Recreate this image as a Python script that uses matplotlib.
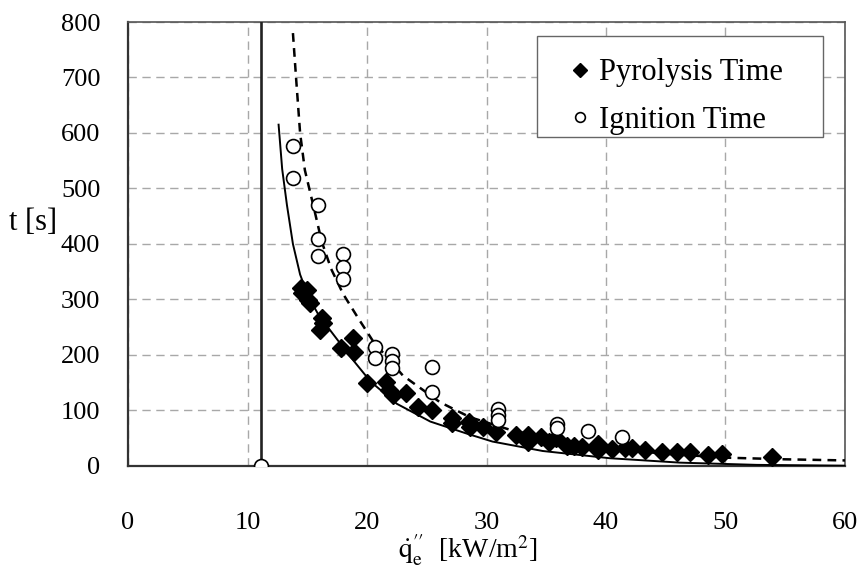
import matplotlib
matplotlib.use("Agg")
import matplotlib.pyplot as plt
from matplotlib.patches import Rectangle

plt.rcParams["font.family"] = ["Liberation Serif", "DejaVu Serif"]
plt.rcParams["mathtext.fontset"] = "stix"

# pyrolysis time (filled diamonds)
pyro_q = [14.5, 15.0, 14.6, 15.1, 15.2, 16.2, 16.3, 16.1, 17.8, 18.8, 18.9,
          20.0, 21.6, 21.8, 22.2, 23.3, 24.3, 25.4, 27.1, 27.1, 28.5, 28.6,
          29.7, 30.8, 32.5, 33.5, 33.5, 34.6, 35.2, 35.8, 36.7, 37.3, 38.0,
          39.3, 39.3, 40.5, 41.6, 42.2, 43.3, 44.7, 45.9, 47.0, 48.5, 49.7, 53.9]
pyro_t = [320, 317, 311, 299, 293, 266, 257, 245, 212, 230, 205,
          150, 152, 137, 128, 131, 107, 101, 86, 77, 79, 70,
          70, 62, 56, 56, 44, 52, 43, 50, 36, 36, 34,
          40, 29, 30, 32, 32, 29, 25, 25, 25, 20, 22, 16]

# ignition time (open circles)
ign_q = [11.1, 13.8, 13.8, 15.9, 15.9, 15.9, 18.0, 18.0, 18.0, 20.7, 20.7,
         22.1, 22.1, 22.1, 25.4, 25.4, 31.0, 31.0, 31.0, 35.9, 35.9, 38.5, 41.3]
ign_t = [0, 577, 519, 470, 409, 379, 382, 359, 337, 214, 195,
         202, 190, 177, 178, 133, 102, 92, 82, 75, 68, 63, 53]

# fitted curves
fit_pyro_q = [12.6, 12.9, 13.3, 13.8, 14.4, 15.1, 16.0, 16.9, 18.6, 20.3, 22.5,
              25.3, 28.4, 30.5, 34.7, 40.3, 46.2, 52.6, 60.0]
fit_pyro_t = [615, 535, 470, 400, 345, 305, 270, 245, 197, 152, 112,
              80, 58, 44, 27, 14, 6, 2, 0.5]
fit_ign_q = [13.8, 14.06, 14.4, 14.8, 15.5, 16.2, 17.0, 18.0, 19.3, 20.5, 23.0,
             26.1, 28.6, 32.0, 36.0, 40.0, 45.0, 50.0, 55.0, 60.0]
fit_ign_t = [780, 700, 600, 533, 470, 405, 355, 310, 265, 225, 163,
             115, 88, 65, 45, 32, 22, 15, 12, 10]

q_crit = 11.1

fig = plt.figure(figsize=(8.61, 5.70), dpi=100)
ax = fig.add_axes([0.1487, 0.1825, 0.8327, 0.7789])

ax.grid(True, color="#a8a8a8", linestyle=(0, (6, 4)), linewidth=1.0)
ax.set_axisbelow(True)

ax.axvline(q_crit, color="#222222", linewidth=1.9, zorder=3)
ax.plot(fit_pyro_q, fit_pyro_t, color="black", linewidth=1.4, zorder=3)
ax.plot(fit_ign_q, fit_ign_t, color="black", linewidth=1.8,
        linestyle=(0, (3.5, 2.5)), zorder=3)

ax.plot(pyro_q, pyro_t, linestyle="none", marker="D", markersize=9.5,
        color="black", label="Pyrolysis Time", zorder=4)
ax.plot(ign_q, ign_t, linestyle="none", marker="o", markersize=10,
        markerfacecolor="white", markeredgecolor="black", markeredgewidth=1.2,
        label="Ignition Time", zorder=5)

ax.set_xlim(0, 60)
ax.set_ylim(0, 800)
ax.set_xticks(range(0, 61, 10))
ax.set_yticks(range(0, 801, 100))
ax.tick_params(axis="x", length=0, pad=33, labelsize=19)
ax.tick_params(axis="y", length=0, pad=20, labelsize=19)

for side in ["left", "bottom"]:
    ax.spines[side].set_color("#333333")
    ax.spines[side].set_linewidth(1.6)
for side in ["top", "right"]:
    ax.spines[side].set_color("#555555")
    ax.spines[side].set_linewidth(1.2)

fig.text(0.011, 0.61, "t [s]", fontsize=22, ha="left", va="center")
fig.text(0.544, 0.035, r"$\mathrm{\dot{q}_e^{\prime\prime}}$  [kW/m$^2$]",
         fontsize=20, ha="center", va="center")

# legend box drawn separately so the padding matches the original
ax.add_patch(Rectangle((0.570, 0.741), 0.399, 0.227, transform=ax.transAxes,
                       facecolor="white", edgecolor="#666666", linewidth=1.0,
                       zorder=6))
leg = ax.legend(loc="upper left", bbox_to_anchor=(0.6137, 0.918),
                fontsize=22, frameon=False, handlelength=0.8,
                handletextpad=0.2, markerscale=0.7, borderpad=0,
                borderaxespad=0, labelspacing=0.6)
leg.set_zorder(7)

fig.savefig("out.png", dpi=100)
